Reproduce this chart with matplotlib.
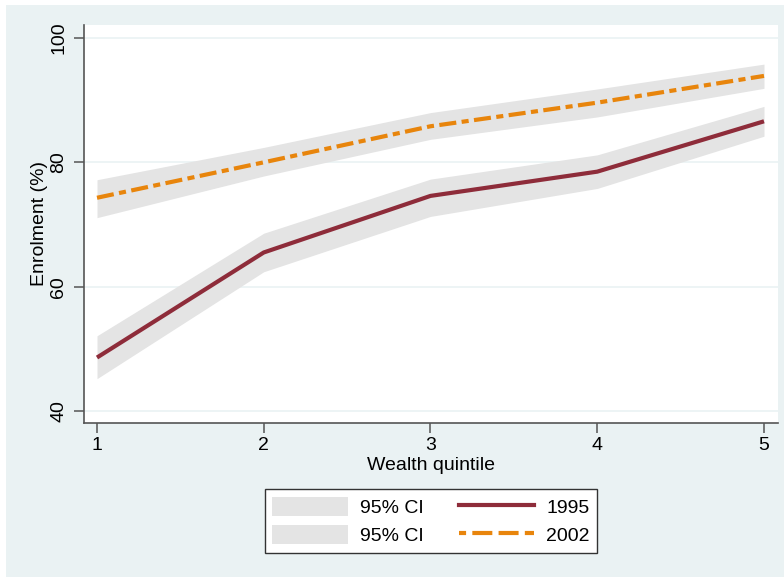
import matplotlib
matplotlib.use("Agg")
import matplotlib.pyplot as plt
from matplotlib.patches import Rectangle, Patch
from matplotlib.lines import Line2D

plt.rcParams["font.family"] = ["Liberation Sans", "DejaVu Sans"]
plt.rcParams["font.size"] = 14

quintile = [1, 2, 3, 4, 5]

enrol_1995 = [48.6, 65.5, 74.6, 78.5, 86.6]
ci_lo_1995 = [45.2, 62.4, 71.3, 75.8, 84.2]
ci_hi_1995 = [52.1, 68.6, 77.3, 81.2, 89.0]

enrol_2002 = [74.3, 80.0, 85.8, 89.6, 93.9]
ci_lo_2002 = [71.1, 77.8, 83.7, 87.3, 91.9]
ci_hi_2002 = [77.2, 82.4, 88.0, 91.8, 95.8]

yticks = [40, 60, 80, 100]

BG = "#EAF2F3"
MAROON = "#8E2C3A"
ORANGE = "#E8850C"
CI_GRAY = "#E4E4E4"

W, H = 784, 577
fig = plt.figure(figsize=(W / 100, H / 100), dpi=100, facecolor="white")
# graph region background, kept behind the axes
fig.patches.append(Rectangle((6 / W, 0), (W - 6) / W, (H - 5) / H,
                             transform=fig.transFigure, facecolor=BG,
                             edgecolor="none", zorder=-10))

ax = fig.add_axes([84 / W, 1 - 423 / H, (778 - 84) / W, (423 - 25) / H])
ax.set_zorder(1)
ax.set_facecolor("white")

ax.fill_between(quintile, ci_lo_1995, ci_hi_1995, color=CI_GRAY, lw=0, zorder=2)
ax.fill_between(quintile, ci_lo_2002, ci_hi_2002, color=CI_GRAY, lw=0, zorder=2)
ax.plot(quintile, enrol_1995, color=MAROON, lw=3, solid_capstyle="butt", zorder=3)
ax.plot(quintile, enrol_2002, color=ORANGE, lw=3,
        ls=(0, (4.1, 1.3, 1.7, 1.3)), dash_capstyle="butt", zorder=3)

ax.set_xlim(0.922, 5.084)
ax.set_ylim(38.07, 102.09)
ax.set_xticks(quintile)
ax.set_yticks(yticks)
ax.set_yticklabels([str(v) for v in yticks], rotation=90, va="center")
for v in yticks:
    ax.axhline(v, color=BG, lw=1.2, zorder=1)

for s in ["top", "right"]:
    ax.spines[s].set_visible(False)
for s in ["left", "bottom"]:
    ax.spines[s].set_color("#555555")
    ax.spines[s].set_linewidth(1.2)
ax.tick_params(axis="both", length=7, width=1.1, color="#555555",
               labelcolor="black", pad=3)
ax.tick_params(axis="y", pad=5)

ax.set_xlabel("Wealth quintile", labelpad=2)
ax.set_ylabel("Enrolment (%)", labelpad=2)

handles = [
    Patch(facecolor=CI_GRAY, edgecolor="none", label="95% CI"),
    Patch(facecolor=CI_GRAY, edgecolor="none", label="95% CI"),
    Line2D([], [], color=MAROON, lw=3, label="1995"),
    Line2D([], [], color=ORANGE, lw=3, ls=(3.1, (4.8, 1.5)),
           dash_capstyle="butt", label="2002"),
]
leg = fig.legend(handles=handles, ncol=2, loc="center",
                 bbox_to_anchor=(431 / W, 1 - 521 / H),
                 frameon=True, fancybox=False, edgecolor="#333333",
                 framealpha=1, facecolor="white",
                 handlelength=3.9, handleheight=1.15, handletextpad=0.6,
                 columnspacing=1.8, labelspacing=0.4, borderpad=0.4)
leg.get_frame().set_linewidth(1.0)

fig.savefig("out.png", dpi=100, facecolor="white")
